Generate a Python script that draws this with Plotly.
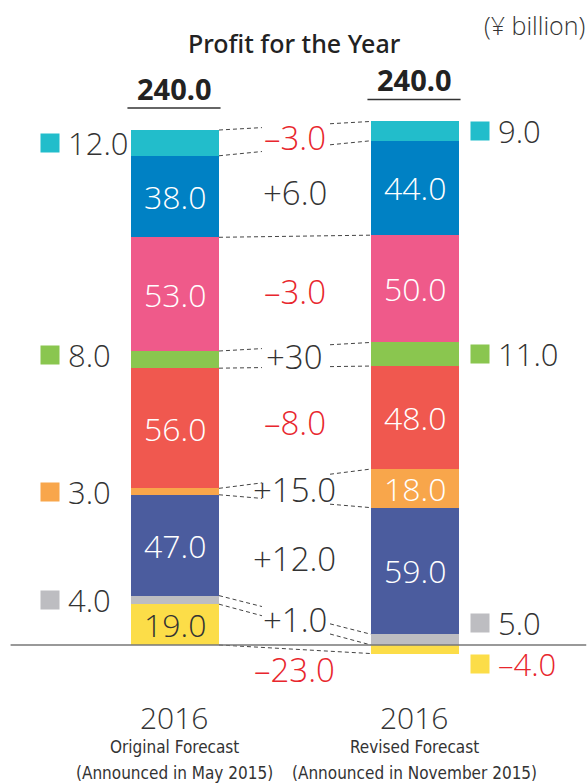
import plotly.graph_objects as go

# ---------------- data ----------------
scenario_years = ["2016", "2016"]
scenario_names = ["Original Forecast", "Revised Forecast"]
scenario_dates = ["(Announced in May 2015)", "(Announced in November 2015)"]
segment_names = ["Yellow", "Gray", "Indigo", "Orange", "Red", "Green", "Pink", "Blue", "Cyan"]
original_values = [19.0, 4.0, 47.0, 3.0, 56.0, 8.0, 53.0, 38.0, 12.0]
revised_values = [-4.0, 5.0, 59.0, 18.0, 48.0, 11.0, 50.0, 44.0, 9.0]
change_labels = ["–23.0", "+1.0", "+12.0", "+15.0", "–8.0", "+30", "–3.0", "+6.0", "–3.0"]
total_labels = ["240.0", "240.0"]
title_text = "Profit for the Year"
unit_text = "(¥ billion)"

# ---------------- style ----------------
seg_colors = ["#FCDD48", "#BDBDC1", "#4B5C9E", "#F8A64B", "#F0584F",
              "#8AC64F", "#EF5A8A", "#0081C4", "#22BDCB"]
inside_text_colors = ["#333333"] + ["#FFFFFF"] * 8
DARK = "#333333"
RED = "#E8262D"
NUM_FONT = "Open Sans"
COND_FONT = "DejaVu Sans Condensed"
BAR_W = 0.367
XPOS = [0, 1]
INSIDE_MIN = 15
side_shift_left = {5: 5}
side_shift_right = {1: 17, 0: -15}
change_shift = {0: -33}
connector_gap = [False, True, True, True, True, True, True, False, True, True]
GAP = (0.3625, 0.646)


def stack(vals):
    pos, neg, out = 0.0, 0.0, []
    for v in vals:
        if v >= 0:
            out.append((pos, pos + v)); pos += v
        else:
            out.append((neg + v, neg)); neg += v
    return out


stacks = [stack(original_values), stack(revised_values)]
series = [original_values, revised_values]

fig = go.Figure()
for i, name in enumerate(segment_names):
    fig.add_trace(go.Bar(
        x=XPOS, y=[original_values[i], revised_values[i]], name=name,
        width=BAR_W, marker=dict(color=seg_colors[i], line=dict(width=0)),
        hoverinfo="skip", showlegend=False))

ann = []
shapes = []


def num_font(size=31, color=DARK):
    return dict(family=NUM_FONT, size=size, color=color, weight=300)


side_x_marker = [-0.521, 1.271]
side_x_text = [-0.454, 1.3375]
for b in range(2):
    for i, v in enumerate(series[b]):
        lo, hi = stacks[b][i]
        mid = (lo + hi) / 2
        if abs(v) >= INSIDE_MIN:
            ann.append(dict(x=XPOS[b], y=mid, text=f"{v:.1f}", showarrow=False,
                            xanchor="center", yanchor="middle",
                            font=num_font(32, inside_text_colors[i])))
        else:
            shift = (side_shift_left if b == 0 else side_shift_right).get(i, 0)
            col = RED if v < 0 else DARK
            txt = f"{v:.1f}".replace("-", "–")
            ann.append(dict(x=side_x_text[b], y=mid, text=txt, showarrow=False,
                            xanchor="left", yanchor="middle", yshift=shift,
                            font=num_font(31, col)))
            ann.append(dict(x=side_x_marker[b], y=mid, text="", showarrow=False,
                            xanchor="center", yanchor="middle",
                            yshift=shift, width=18, height=18, bgcolor=seg_colors[i],
                            borderpad=0))

for i, lab in enumerate(change_labels):
    mids = [(stacks[b][i][0] + stacks[b][i][1]) / 2 for b in range(2)]
    y = sum(mids) / 2
    col = RED if lab.startswith("–") or lab.startswith("-") else DARK
    ann.append(dict(x=0.5, y=y, text=lab, showarrow=False, yshift=change_shift.get(i, 0),
                    xanchor="center", yanchor="middle", font=num_font(33, col)))

xl = XPOS[0] + BAR_W / 2
xr = XPOS[1] - BAR_W / 2
bounds = []
for i in range(len(segment_names)):
    bounds.append((stacks[0][i][0], stacks[1][i][0]))
bounds.append((stacks[0][-1][1], stacks[1][-1][1]))
line_style = dict(color="#444444", width=1, dash="4px,3px")
for k, (yl, yr) in enumerate(bounds):
    def yat(x):
        return yl + (yr - yl) * (x - xl) / (xr - xl)
    if connector_gap[k]:
        shapes.append(dict(type="line", x0=xl, x1=GAP[0], y0=yl, y1=yat(GAP[0]), line=line_style))
        shapes.append(dict(type="line", x0=GAP[1], x1=xr, y0=yat(GAP[1]), y1=yr, line=line_style))
    else:
        shapes.append(dict(type="line", x0=xl, x1=xr, y0=yl, y1=yr, line=line_style))

for b in range(2):
    top = stacks[b][-1][1]
    ann.append(dict(x=XPOS[b], y=top, text=f"<b>{total_labels[b]}</b>", showarrow=False,
                    xanchor="center", yanchor="middle", yshift=42,
                    font=dict(family="Noto Sans", size=29, color="#222222")))
    shapes.append(dict(type="line", xref="x", yref="y", x0=XPOS[b] - 0.198, x1=XPOS[b] + 0.19,
                       ysizemode="pixel", yanchor=top, y0=22, y1=22,
                       line=dict(color="#333333", width=1.5)))

shapes.append(dict(type="line", xref="paper", yref="y", x0=0.018, x1=0.997, y0=0, y1=0,
                   line=dict(color="#777777", width=1.5)))

ann.append(dict(xref="paper", yref="paper", x=294 / 588, y=1 - 43 / 784, text=title_text,
                showarrow=False, xanchor="center", yanchor="middle",
                font=dict(family="Noto Sans", size=25, color="#222222", weight=500)))
ann.append(dict(xref="paper", yref="paper", x=587 / 588, y=1 - 25 / 784, text=unit_text,
                xanchor="right", yanchor="middle", showarrow=False, font=num_font(25, DARK)))

for b in range(2):
    ann.append(dict(x=XPOS[b], xref="x", yref="paper", y=1 - 717 / 784, text=scenario_years[b],
                    showarrow=False, xanchor="center", yanchor="middle", font=num_font(30, DARK)))
    ann.append(dict(x=XPOS[b], xref="x", yref="paper", y=1 - 747 / 784, text=scenario_names[b],
                    showarrow=False, xanchor="center", yanchor="middle",
                    font=dict(family=COND_FONT, size=17, color=DARK)))
    ann.append(dict(x=XPOS[b], xref="x", yref="paper", y=1 - 773 / 784, text=scenario_dates[b],
                    showarrow=False, xanchor="center", yanchor="middle",
                    font=dict(family=COND_FONT, size=17, color=DARK)))

fig.update_layout(
    width=588, height=784, barmode="relative", bargap=0,
    margin=dict(l=0, r=0, t=0, b=0),
    paper_bgcolor="white", plot_bgcolor="white",
    xaxis=dict(range=[-0.729, 1.721], visible=False, fixedrange=True),
    yaxis=dict(range=[-64.8, 300.6], visible=False, fixedrange=True),
    annotations=ann, shapes=shapes, showlegend=False,
)
fig.write_html("out.html", config={"displayModeBar": False},
               post_script="document.body.style.margin='0';document.body.style.overflow='hidden';")
